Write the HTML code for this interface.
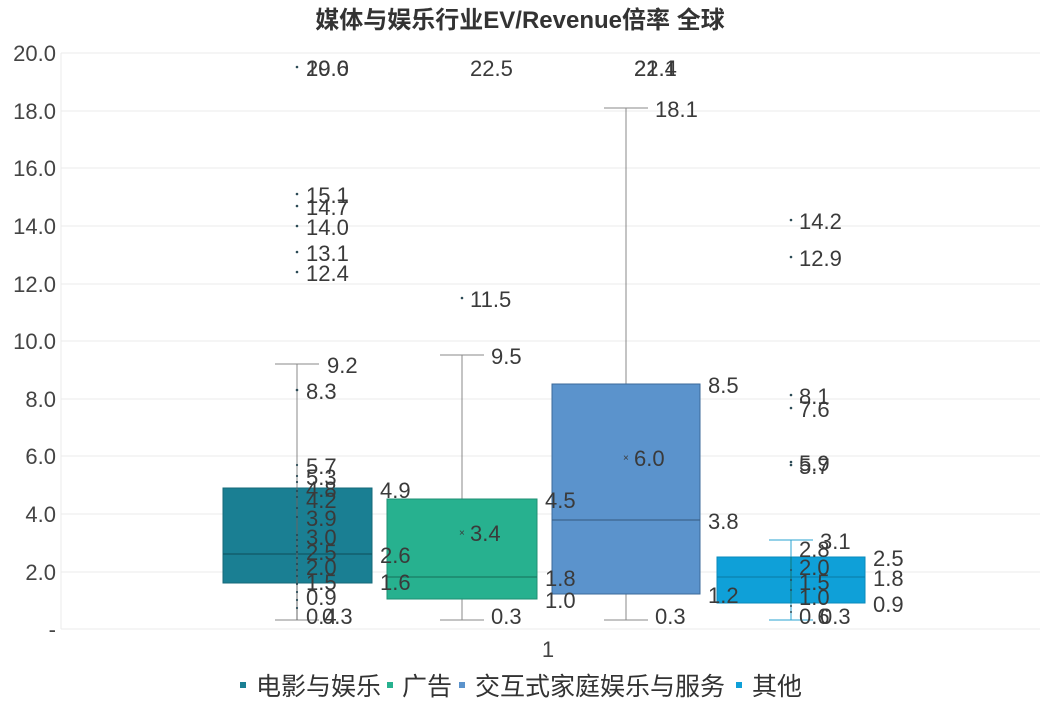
<!DOCTYPE html>
<html><head><meta charset="utf-8"><style>
html,body{margin:0;padding:0;background:#fff}
svg{display:block}
text{font-family:"Liberation Sans","Noto Sans CJK SC",sans-serif}
.l{font-size:22px;fill:#3a3a3a}
.ax{font-size:22px;fill:#444}
</style></head><body>
<svg width="1040" height="709" viewBox="0 0 1040 709">
<text x="520" y="28" text-anchor="middle" style="font-size:24px;font-weight:bold;fill:#333">媒体与娱乐行业EV/Revenue倍率 全球</text>
<g stroke="#ebebeb" stroke-width="1">
<line x1="61" y1="53" x2="1040" y2="53"/><line x1="61" y1="111" x2="1040" y2="111"/>
<line x1="61" y1="168" x2="1040" y2="168"/><line x1="61" y1="226" x2="1040" y2="226"/>
<line x1="61" y1="284" x2="1040" y2="284"/><line x1="61" y1="341" x2="1040" y2="341"/>
<line x1="61" y1="399" x2="1040" y2="399"/><line x1="61" y1="456" x2="1040" y2="456"/>
<line x1="61" y1="514" x2="1040" y2="514"/><line x1="61" y1="572" x2="1040" y2="572"/>
<line x1="61" y1="629" x2="1040" y2="629"/><line x1="61" y1="53" x2="61" y2="629"/>
</g>
<g class="ax" text-anchor="end">
<text x="56" y="61">20.0</text><text x="56" y="119">18.0</text><text x="56" y="176">16.0</text>
<text x="56" y="234">14.0</text><text x="56" y="292">12.0</text><text x="56" y="349">10.0</text>
<text x="56" y="407">8.0</text><text x="56" y="464">6.0</text><text x="56" y="522">4.0</text>
<text x="56" y="580">2.0</text><text x="56" y="637">-</text>
</g>
<text x="548" y="657" text-anchor="middle" class="ax">1</text>
<g stroke="#888" stroke-width="1">
<line x1="297" y1="364" x2="297" y2="620"/><line x1="275" y1="364" x2="319" y2="364"/><line x1="275" y1="620" x2="319" y2="620"/>
<line x1="462" y1="355" x2="462" y2="620"/><line x1="440" y1="355" x2="484" y2="355"/><line x1="440" y1="620" x2="484" y2="620"/>
<line x1="626" y1="108" x2="626" y2="620"/><line x1="604" y1="108" x2="648" y2="108"/><line x1="604" y1="620" x2="648" y2="620"/>
<line x1="791" y1="540" x2="791" y2="620" stroke="#2aa3d0"/><line x1="769" y1="540" x2="813" y2="540" stroke="#2aa3d0"/><line x1="769" y1="620" x2="813" y2="620" stroke="#2aa3d0"/>
</g>
<rect x="223" y="488" width="149" height="95" fill="#1a7f93" stroke="#156a7a"/>
<line x1="223" y1="554" x2="372" y2="554" stroke="#0d4d5a"/>
<rect x="387" y="499" width="150" height="100" fill="#27b18f" stroke="#1f8f73"/>
<line x1="387" y1="577" x2="537" y2="577" stroke="#15705a"/>
<rect x="552" y="384" width="148" height="210" fill="#5b93cc" stroke="#3b6a9a"/>
<line x1="552" y1="520" x2="700" y2="520" stroke="#35587e"/>
<rect x="717" y="557" width="148" height="46" fill="#0fa0d8" stroke="#0a8abb"/>
<line x1="717" y1="577" x2="865" y2="577" stroke="#0a7aa5"/>
<line x1="297" y1="488" x2="297" y2="620" stroke="#666" stroke-width="1"/>
<line x1="791" y1="557" x2="791" y2="603" stroke="#177" stroke-width="1"/>
<g fill="#2b4a55">
<circle cx="297" cy="67" r="1.3"/><circle cx="297" cy="194" r="1.3"/><circle cx="297" cy="206" r="1.3"/><circle cx="297" cy="226" r="1.3"/><circle cx="297" cy="252" r="1.3"/><circle cx="297" cy="272" r="1.3"/><circle cx="297" cy="390" r="1.3"/>
<circle cx="297" cy="465" r="1.1"/><circle cx="297" cy="476" r="1.1"/><circle cx="297" cy="482" r="1.1"/><circle cx="297" cy="491" r="1.1"/><circle cx="297" cy="497" r="1.1"/><circle cx="297" cy="508" r="1.1"/><circle cx="297" cy="517" r="1.1"/>
<circle cx="297" cy="535" r="1.1"/><circle cx="297" cy="540" r="1.1"/><circle cx="297" cy="546" r="1.1"/><circle cx="297" cy="552" r="1.1"/><circle cx="297" cy="558" r="1.1"/><circle cx="297" cy="564" r="1.1"/><circle cx="297" cy="570" r="1.1"/><circle cx="297" cy="576" r="1.1"/><circle cx="297" cy="584" r="1.1"/><circle cx="297" cy="592" r="1.1"/><circle cx="297" cy="600" r="1.1"/><circle cx="297" cy="608" r="1.1"/>
<circle cx="462" cy="298" r="1.3"/>
<circle cx="791" cy="220" r="1.3"/><circle cx="791" cy="257" r="1.3"/><circle cx="791" cy="395" r="1.3"/><circle cx="791" cy="408" r="1.3"/><circle cx="791" cy="462" r="1.3"/><circle cx="791" cy="465" r="1.3"/>
<circle cx="791" cy="570" r="1"/><circle cx="791" cy="580" r="1"/><circle cx="791" cy="590" r="1"/><circle cx="791" cy="606" r="1"/><circle cx="791" cy="612" r="1"/>
</g>
<g class="l"><text x="459" y="536" style="font-size:10px">×</text><text x="623" y="461" style="font-size:10px">×</text></g>
<g class="l">
<text x="306" y="76">20.0</text><text x="306" y="76">19.6</text>
<text x="306" y="203">15.1</text><text x="306" y="215">14.7</text><text x="306" y="235">14.0</text><text x="306" y="261">13.1</text><text x="306" y="281">12.4</text>
<text x="327" y="373">9.2</text><text x="306" y="399">8.3</text>
<text x="306" y="474">5.7</text><text x="306" y="485">5.3</text><text x="306" y="497">4.8</text><text x="306" y="508">4.2</text><text x="306" y="526">3.9</text><text x="306" y="545">3.0</text><text x="306" y="560">2.5</text><text x="306" y="575">2.0</text><text x="306" y="590">1.5</text><text x="306" y="605">0.9</text><text x="306" y="624">0.4</text><text x="322" y="624">0.3</text>
<text x="380" y="498">4.9</text><text x="380" y="563">2.6</text><text x="380" y="590">1.6</text>
<text x="470" y="76">22.5</text><text x="470" y="307">11.5</text><text x="491" y="364">9.5</text>
<text x="470" y="541">3.4</text><text x="545" y="508">4.5</text><text x="545" y="586">1.8</text><text x="545" y="608">1.0</text><text x="491" y="624">0.3</text>
<text x="634" y="76">22.4</text><text x="634" y="76">21.1</text><text x="655" y="117">18.1</text>
<text x="708" y="393">8.5</text><text x="634" y="466">6.0</text><text x="708" y="529">3.8</text><text x="708" y="603">1.2</text><text x="655" y="624">0.3</text>
<text x="799" y="229">14.2</text><text x="799" y="266">12.9</text><text x="799" y="404">8.1</text><text x="799" y="417">7.6</text><text x="799" y="471">5.9</text><text x="799" y="474">5.7</text>
<text x="820" y="549">3.1</text><text x="799" y="557">2.8</text><text x="799" y="575">2.0</text><text x="799" y="590">1.5</text><text x="799" y="605">1.0</text><text x="799" y="624">0.6</text><text x="820" y="624">0.3</text>
<text x="873" y="566">2.5</text><text x="873" y="586">1.8</text><text x="873" y="612">0.9</text>
</g>
<g style="font-size:25px;fill:#333">
<rect x="240" y="682" width="6" height="6" fill="#1a7f93"/><text x="256" y="695">电影与娱乐</text>
<rect x="387" y="682" width="6" height="6" fill="#27b18f"/><text x="402" y="695">广告</text>
<rect x="459" y="682" width="6" height="6" fill="#5b93cc"/><text x="475" y="695">交互式家庭娱乐与服务</text>
<rect x="736" y="682" width="6" height="6" fill="#0fa0d8"/><text x="752" y="695">其他</text>
</g>
</svg>
</body></html>
